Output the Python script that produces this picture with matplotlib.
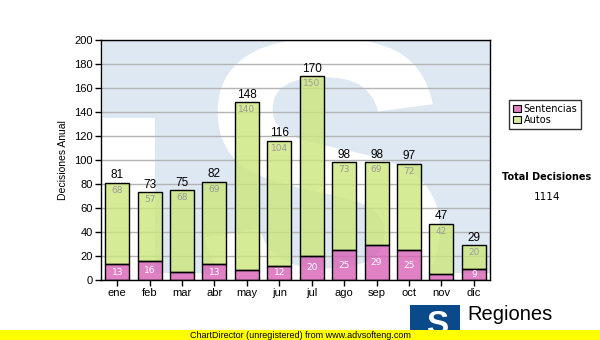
import numpy as np
import matplotlib
matplotlib.use("Agg")
import matplotlib.pyplot as plt
from matplotlib.patches import Patch, Polygon, PathPatch, Rectangle
from matplotlib.textpath import TextPath
from matplotlib.font_manager import FontProperties
from matplotlib.transforms import Affine2D

months = ["ene", "feb", "mar", "abr", "may", "jun", "jul", "ago", "sep", "oct", "nov", "dic"]
sentencias = [13, 16, 7, 13, 8, 12, 20, 25, 29, 25, 5, 9]
autos = [68, 57, 68, 69, 140, 104, 150, 73, 69, 72, 42, 20]

totals = [s + a for s, a in zip(sentencias, autos)]
grand_total = sum(totals)

W, H = 600, 340
fig = plt.figure(figsize=(6, 3.4), dpi=100)
fig.patch.set_facecolor("white")

# plot area in pixels: x 101..490, y 40..280
px0, px1, py0, py1 = 101, 490, 40, 280
ax = fig.add_axes([px0 / W, 1 - py1 / H, (px1 - px0) / W, (py1 - py0) / H])
ax.set_facecolor("white")


def to_ax(px, py):
    return ((px - px0) / (px1 - px0), (py1 - py) / (py1 - py0))


# watermark: light blue block with a white "S"
blue_pts = [to_ax(*p) for p in [(103, 40), (490, 40), (490, 273), (155, 273), (155, 118), (103, 118)]]
ax.add_patch(Polygon(blue_pts, closed=True, transform=ax.transAxes,
                     facecolor="#dee8f2", edgecolor="none", zorder=0))

s_path = TextPath((0, 0), "S", size=1, prop=FontProperties(family="Liberation Sans", weight="bold"))
ext = s_path.get_extents()
sx0, sy0 = to_ax(205, 310)
sx1, sy1 = to_ax(440, 38)
tr = (Affine2D().translate(-ext.x0, -ext.y0)
      .scale((sx1 - sx0) / ext.width, (sy1 - sy0) / ext.height)
      .translate(sx0, sy0))
ax.add_patch(PathPatch(tr.transform_path(s_path), transform=ax.transAxes,
                       facecolor="white", edgecolor="none", zorder=0.5, clip_on=True))

x = np.arange(len(months))
ax.bar(x, sentencias, width=0.74, color="#d862b6", alpha=0.8, edgecolor="none", zorder=2)
ax.bar(x, autos, width=0.74, bottom=sentencias, color="#cce77c", alpha=0.8, edgecolor="none", zorder=2)
ax.bar(x, sentencias, width=0.74, fill=False, edgecolor="black", linewidth=1, zorder=3)
ax.bar(x, autos, width=0.74, bottom=sentencias, fill=False, edgecolor="black", linewidth=1, zorder=3)

for i in range(len(months)):
    ax.text(x[i], totals[i] + 1.2, str(totals[i]), ha="center", va="bottom",
            fontsize=8.5, family="Liberation Sans", color="black", zorder=4)
    ax.text(x[i], totals[i] - 2.5, str(autos[i]), ha="center", va="top",
            fontsize=6.5, color="#9a9a9a", zorder=4)
    if sentencias[i] >= 9:
        ax.text(x[i], sentencias[i] / 2, str(sentencias[i]), ha="center", va="center",
                fontsize=6.5, color="white", zorder=4)

ax.set_xlim(-0.5, len(months) - 0.5)
ax.set_ylim(0, 200)
ax.set_yticks(np.arange(0, 201, 20))
ax.set_xticks(x)
ax.set_xticklabels(months)
ax.yaxis.grid(True, color="#b4b4b4", linewidth=1, zorder=1)
ax.set_axisbelow(True)
ax.tick_params(axis="both", direction="out", length=4, width=1, labelsize=8, pad=2)
for lbl in ax.get_xticklabels() + ax.get_yticklabels():
    lbl.set_family("Liberation Sans")
for sp in ax.spines.values():
    sp.set_linewidth(1)
    sp.set_color("black")
ax.set_ylabel("Decisiones Anual", fontsize=7.5, family="Liberation Sans", labelpad=4)

# legend and total
handles = [Patch(facecolor="#e07fc4", edgecolor="black", linewidth=0.8, label="Sentencias"),
           Patch(facecolor="#d6ec98", edgecolor="black", linewidth=0.8, label="Autos")]
fig.legend(handles=handles, loc="upper left", bbox_to_anchor=(509 / W, 1 - 100 / H),
           fontsize=7, frameon=True, fancybox=False, edgecolor="black",
           handlelength=0.8, handleheight=0.8, handletextpad=0.3, borderpad=0.4,
           labelspacing=0.1, borderaxespad=0)
fig.text(547 / W, 1 - 177 / H, "Total Decisiones", ha="center", va="center",
         fontsize=7, fontweight="bold")
fig.text(547 / W, 1 - 197 / H, str(grand_total), ha="center", va="center", fontsize=7.5)

# logo at the bottom
logo = fig.add_axes([410 / W, 0, 50 / W, 35 / H])
logo.set_xlim(0, 1)
logo.set_ylim(0, 1)
logo.axis("off")
logo.add_patch(Rectangle((0, 0), 1, 1, facecolor="#0a4a8a", edgecolor="none"))
logo.text(0.55, 0.42, "S", ha="center", va="center", fontsize=24, fontweight="bold",
          family="Liberation Sans", color="white")
fig.text(467 / W, 1 - 315 / H, "Regiones", ha="left", va="center", fontsize=14.5,
         family="Liberation Sans")

# yellow banner
fig.patches.append(Rectangle((0, 0), 1, 10 / H, transform=fig.transFigure,
                             facecolor="#ffff00", edgecolor="none", zorder=10))
fig.text(0.5, 5 / H, "ChartDirector (unregistered) from www.advsofteng.com",
         ha="center", va="center", fontsize=6.5, family="Liberation Sans", zorder=11)

fig.savefig("out.png", dpi=100)
